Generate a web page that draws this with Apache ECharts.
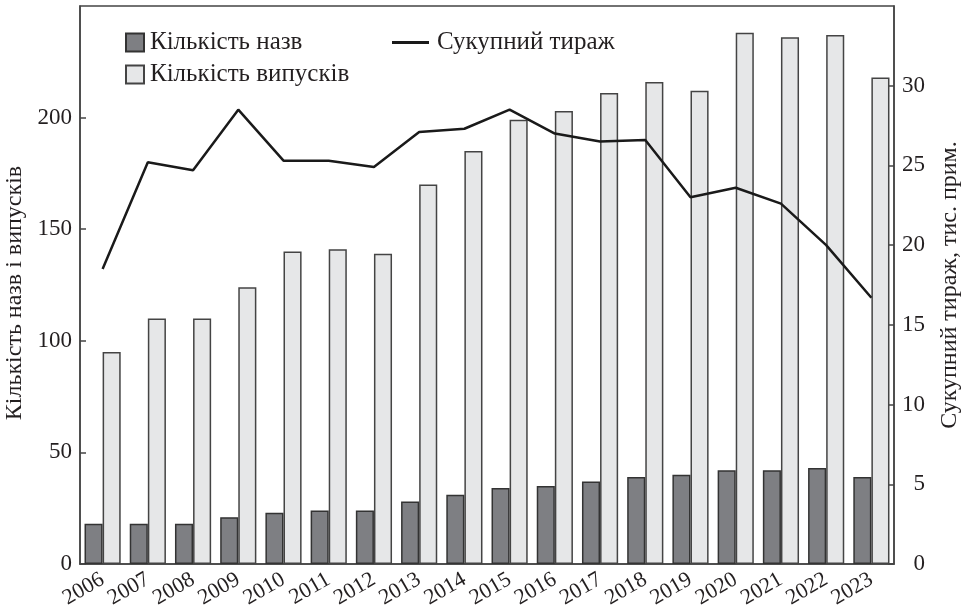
<!DOCTYPE html>
<html>
<head>
<meta charset="utf-8">
<script src="https://cdn.jsdelivr.net/npm/echarts@6/dist/echarts.min.js"></script>
<style>
html,body{margin:0;padding:0;background:#fff;}
#chart{width:962px;height:612px;}
</style>
</head>
<body>
<div id="chart"></div>
<script>
const years = ['2006','2007','2008','2009','2010','2011','2012','2013','2014','2015','2016','2017','2018','2019','2020','2021','2022','2023'];
const titlesCount = [18,18,18,21,23,24,24,28,31,34,35,37,39,40,42,42,43,39];
const issuesCount = [95,110,110,124,140,141,139,170,185,199,203,211,216,212,238,236,237,218];
const totalCirculation = [18.5,25.2,24.7,28.5,25.3,25.3,24.9,27.1,27.3,28.5,27.0,26.5,26.6,23.0,23.6,22.6,20.0,16.7];
const leftTicks = [0,50,100,150,200];
const rightTicks = [0,5,10,15,20,25,30];

const FONT = '"Liberation Serif", "DejaVu Serif", serif';
const TXT = '#231f20';
const chart = echarts.init(document.getElementById('chart'), null, {renderer:'canvas'});
chart.setOption({
  animation:false,
  backgroundColor:'#fff',
  textStyle:{fontFamily:FONT,color:TXT},
  grid:{left:80,right:68,top:6,bottom:48,show:true,borderColor:'#444',borderWidth:1.5,backgroundColor:'transparent',
        containLabel:false,outerBoundsMode:'none'},
  legend:[
    {data:['Кількість назв','Кількість випусків'],orient:'vertical',left:120,top:25,itemWidth:18,itemHeight:18,itemGap:7,
     icon:'rect',
     textStyle:{fontFamily:FONT,fontSize:25,lineHeight:24,color:TXT,padding:[0,0,0,1]}},
    {data:['Сукупний тираж'],left:387,top:25,itemWidth:37,itemHeight:3,icon:'rect',
     textStyle:{fontFamily:FONT,fontSize:25,lineHeight:24,color:TXT,padding:[0,0,0,3]}}
  ],
  xAxis:{type:'category',data:years,
    axisLine:{show:true,lineStyle:{color:'#444',width:1.5}},
    axisTick:{show:false},
    axisLabel:{rotate:30,fontSize:22,fontFamily:FONT,color:TXT,margin:14,interval:0}},
  yAxis:[
    {type:'value',min:0,max:250,interval:50,position:'left',
     name:'Кількість назв і випусків',nameLocation:'middle',nameGap:50,nameRotate:90,
     nameTextStyle:{fontFamily:FONT,fontSize:24,color:TXT,padding:[0,16,0,0]},
     axisLine:{show:true,lineStyle:{color:'#444',width:1.5}},
     axisTick:{show:true,inside:true,length:6,lineStyle:{color:'#444',width:1.5}},
     axisLabel:{fontSize:23,fontFamily:FONT,color:TXT,margin:8,showMaxLabel:false,
       formatter:v=>leftTicks.includes(v)?String(v):''},
     splitLine:{show:false}},
    {type:'value',min:0,max:35,interval:5,position:'right',
     name:'Сукупний тираж, тис. прим.',nameLocation:'middle',nameGap:44,nameRotate:90,
     nameTextStyle:{fontFamily:FONT,fontSize:24,color:TXT},
     axisLine:{show:true,lineStyle:{color:'#444',width:1.5}},
     axisTick:{show:true,inside:true,length:6,lineStyle:{color:'#444',width:1.5}},
     axisLabel:{fontSize:23,fontFamily:FONT,color:TXT,margin:31,align:'right',showMaxLabel:false,
       formatter:v=>rightTicks.includes(v)?String(v):''},
     splitLine:{show:false}}
  ],
  series:[
    {name:'Кількість назв',type:'bar',data:titlesCount,yAxisIndex:0,barGap:'0%',barCategoryGap:'20%',
     itemStyle:{color:'#7e7f83',borderColor:'#333',borderWidth:1.5}},
    {name:'Кількість випусків',type:'bar',data:issuesCount,yAxisIndex:0,barGap:'0%',barCategoryGap:'20%',
     itemStyle:{color:'#e6e7e8',borderColor:'#444',borderWidth:1.5}},
    {name:'Сукупний тираж',type:'line',data:totalCirculation,yAxisIndex:1,symbol:'none',z:5,
     itemStyle:{color:'#1a1a1a'},lineStyle:{color:'#1a1a1a',width:2.5}}
  ]
});
</script>
</body>
</html>
